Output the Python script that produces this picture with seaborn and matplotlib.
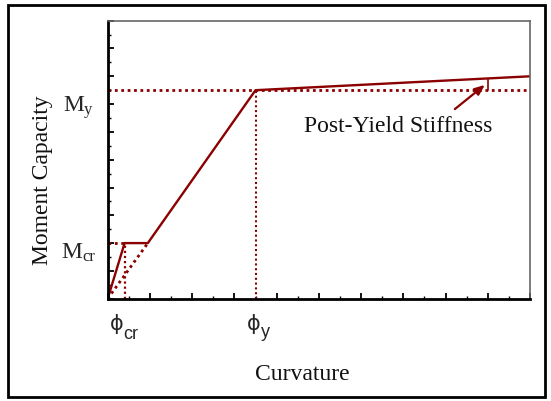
import matplotlib
matplotlib.use("Agg")
import matplotlib.pyplot as plt
import seaborn as sns
import numpy as np
from matplotlib.patches import Rectangle
from matplotlib.ticker import MultipleLocator

# ---- data ----
curvature = [0.0, 0.4, 0.95, 3.5, 10.0]
moment = [0.0, 2.0, 2.0, 7.5, 8.0]
phi_cr = 0.4
phi_y = 3.5
m_cr = 2.0
m_y = 7.5
plateau_end = 0.95
stiff_mark_x = 9.0
stiff_mark_top = 7.92

sns.set_style("ticks")
plt.rcParams['font.family'] = ['Liberation Serif', 'DejaVu Serif']

W, H = 551, 401
fig = plt.figure(figsize=(W / 100, H / 100), dpi=100)

def fx(px):
    return px / W

def fy(py):
    return 1 - py / H

L, R, T, B = 107.7, 530.0, 20.7, 298.7
ax = fig.add_axes([fx(L), fy(B), fx(R) - fx(L), fy(T) - fy(B)])

red = '#8B0000'
dot = (0, (1, 1.3))

sns.lineplot(x=curvature, y=moment, ax=ax, color=red, lw=1.7, sort=False,
             estimator=None)

# dotted guide lines
ax.plot([0, phi_cr], [m_cr, m_cr], color=red, ls=dot, lw=2.0)
ax.plot([phi_cr, phi_cr], [0, m_cr], color=red, ls=dot, lw=1.6)
ax.plot([0, plateau_end], [0, m_cr], color=red, ls=dot, lw=2.0)
ax.plot([0, 10], [m_y, m_y], color=red, ls=dot, lw=2.0)
ax.plot([phi_y, phi_y], [0, m_y], color=red, ls=dot, lw=1.5)
ax.plot([stiff_mark_x, stiff_mark_x], [m_y, stiff_mark_top], color=red, lw=1.2)

ax.annotate('', xy=(8.93, 7.69), xytext=(8.22, 6.82),
            arrowprops=dict(arrowstyle='-|>,head_length=0.6,head_width=0.25',
                            color=red, lw=1.6, shrinkA=0, shrinkB=0))
ax.text(6.87, 6.2, 'Post-Yield Stiffness', fontsize=17, ha='center',
        va='center', color='#111111')

ax.set_xlim(0, 10)
ax.set_ylim(0, 10)
ax.xaxis.set_major_locator(MultipleLocator(1))
ax.xaxis.set_minor_locator(MultipleLocator(0.5))
ax.yaxis.set_major_locator(MultipleLocator(1))
ax.yaxis.set_minor_locator(MultipleLocator(0.5))
ax.tick_params(which='major', direction='in', length=4, width=1.3,
               labelbottom=False, labelleft=False, color='black')
ax.tick_params(which='minor', direction='in', length=2.3, width=1.0,
               color='black')
for s in ['left', 'bottom']:
    ax.spines[s].set_linewidth(2.0)
    ax.spines[s].set_color('black')
for s in ['top', 'right']:
    ax.spines[s].set_linewidth(1.2)
    ax.spines[s].set_color('#666666')
ax.set_xlabel('')
ax.set_ylabel('')

# axis titles
fig.text(fx(302), fy(375), 'Curvature', fontsize=17, ha='center',
         va='center', color='#111111')
fig.text(fx(43), fy(180), 'Moment Capacity', fontsize=17, ha='center',
         va='center', rotation=90, color='#111111')

# y labels
fig.text(fx(84), fy(111), 'M', fontsize=17, ha='right', va='baseline')
fig.text(fx(84), fy(114), 'y', fontsize=12, ha='left', va='baseline')
fig.text(fx(82), fy(258), 'M', fontsize=17, ha='right', va='baseline')
fig.text(fx(82), fy(261), 'cr', fontsize=12, ha='left', va='baseline')

# x labels
sans = ['Liberation Sans', 'DejaVu Sans']
fig.text(fx(117), fy(330), 'ϕ', fontsize=15, ha='center', va='baseline',
         family=['DejaVu Sans'])
fig.text(fx(123), fy(339), 'cr', fontsize=13, ha='left', va='baseline',
         family=sans)
fig.text(fx(254), fy(330), 'ϕ', fontsize=15, ha='center', va='baseline',
         family=['DejaVu Sans'])
fig.text(fx(260.5), fy(337), 'y', fontsize=13, ha='left', va='baseline',
         family=sans)

# outer frame
fig.patches.append(Rectangle((fx(8), fy(397)), fx(545) - fx(8),
                             fy(5) - fy(397), transform=fig.transFigure,
                             fill=False, edgecolor='black', lw=2.0))

fig.savefig('out.png', dpi=100)
